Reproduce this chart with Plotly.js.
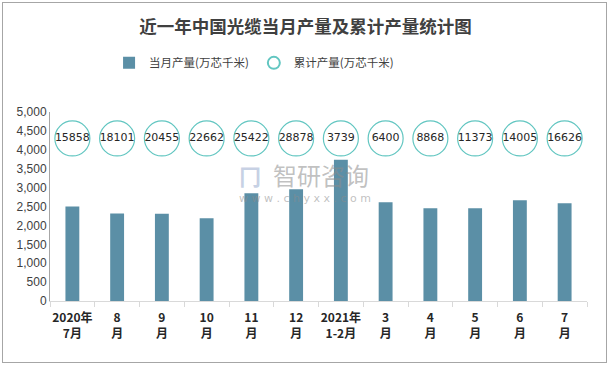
<!DOCTYPE html>
<html>
<head>
<meta charset="utf-8">
<script src="https://cdn.plot.ly/plotly-3.0.1.min.js"></script>
<style>
html,body{margin:0;padding:0;background:#fff;}
#wrap{position:relative;width:611px;height:368px;}
#chart{width:611px;height:368px;}
#frame{position:absolute;left:2px;top:2px;width:603px;height:359px;border:1px solid #A6A6A6;pointer-events:none;}
</style>
</head>
<body>
<div id="wrap"><div id="chart"></div><div id="frame"></div></div>
<script>
const categories = ["2020年<br>7月","8<br>月","9<br>月","10<br>月","11<br>月","12<br>月","2021年<br>1-2月","3<br>月","4<br>月","5<br>月","6<br>月","7<br>月"];
const monthly = [2497, 2312, 2310, 2188, 2849, 2955, 3739, 2611, 2452, 2452, 2664, 2585];
const cumulative = [15858, 18101, 20455, 22662, 25422, 28878, 3739, 6400, 8868, 11373, 14005, 16626];
const labelLevel = 4300;

const font = '"Noto Sans CJK SC", "Noto Sans", sans-serif';

const traces = [
  {
    type: 'bar',
    name: '当月产量(万芯千米)',
    x: categories,
    y: monthly,
    marker: {color: '#5B8FA6'},
    hoverinfo: 'y'
  },
  {
    type: 'scatter',
    mode: 'markers+text',
    name: '累计产量(万芯千米)',
    x: categories,
    y: categories.map(() => labelLevel),
    text: cumulative.map(String),
    textposition: 'middle center',
    textfont: {family: '"DejaVu Sans", sans-serif', size: 11, color: '#262626'},
    marker: {symbol: 'circle', size: 35, color: 'rgba(255,255,255,0)', line: {color: '#62C6C1', width: 1.2}},
    cliponaxis: false
  }
];

const layout = {
  width: 611, height: 368,
  margin: {l: 50, r: 24, t: 112, b: 67},
  paper_bgcolor: '#fff', plot_bgcolor: '#fff',
  font: {family: font, color: '#404040'},
  title: {
    text: '<b>近一年中国光缆当月产量及累计产量统计图</b>',
    font: {family: font, size: 17.5, color: '#404040'},
    x: 0.5, xanchor: 'center', y: 0.928, yanchor: 'middle'
  },
  showlegend: true,
  legend: {
    orientation: 'h', x: 0.38, xanchor: 'center', y: 1.26, yanchor: 'middle',
    font: {family: font, size: 11.5, color: '#404040'},
    itemsizing: 'constant', traceorder: 'normal', itemwidth: 30
  },
  bargap: 0.69,
  xaxis: {
    type: 'category', range: [-0.5, 11.5], tickangle: 0,
    showline: true, linecolor: '#D9D9D9', linewidth: 1,
    ticks: 'outside', tickson: 'boundaries', ticklen: 5, tickcolor: '#D9D9D9',
    ticklabelstandoff: 6,
    tickfont: {family: font, size: 12, color: '#262626', weight: 'bold'},
    showgrid: false, zeroline: false, fixedrange: true
  },
  yaxis: {
    range: [0, 5000], dtick: 500, tickformat: ',',
    showline: true, linecolor: '#A6A6A6', linewidth: 1,
    ticks: '', showgrid: false, zeroline: false,
    tickfont: {family: '"Liberation Sans", Arial, sans-serif', size: 12, color: '#404040'},
    fixedrange: true
  },
  annotations: [
    {xref: 'paper', yref: 'paper', x: 0.505, y: 0.668, xanchor: 'center', yanchor: 'middle', text: '智研咨询', showarrow: false,
     font: {family: font, size: 24, color: 'rgba(140,140,140,0.55)'}},
    {xref: 'paper', yref: 'paper', x: 0.475, y: 0.54, xanchor: 'center', yanchor: 'middle', text: 'w w w . c h y x x . c o m', showarrow: false,
     font: {family: '"DejaVu Sans", sans-serif', size: 11, color: 'rgba(140,140,140,0.55)'}},
    {xref: 'paper', yref: 'paper', x: 0.372, y: 0.668, xanchor: 'center', yanchor: 'middle', text: '<b>冂</b>', showarrow: false,
     font: {family: font, size: 22, color: 'rgba(150,170,205,0.55)'}}
  ]
};

Plotly.newPlot('chart', traces, layout, {displayModeBar: false, staticPlot: true});
</script>
</body>
</html>
